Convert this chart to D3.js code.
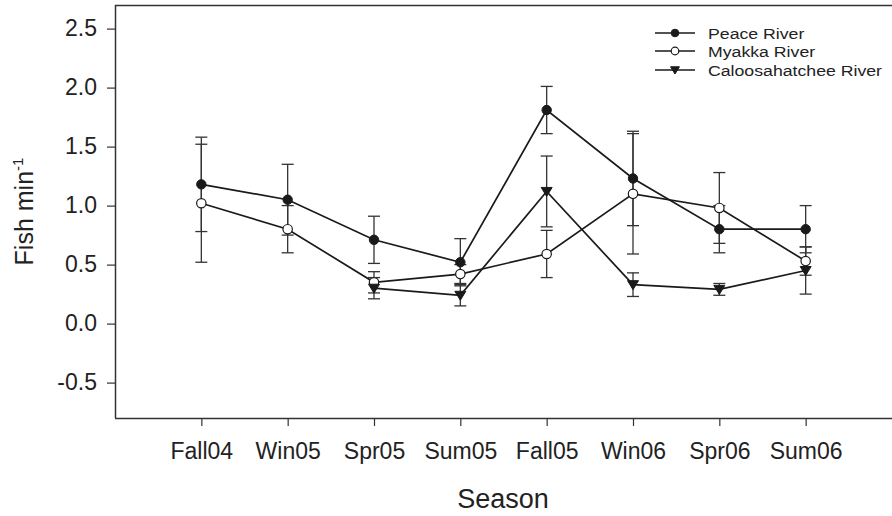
<!DOCTYPE html>
<html><head><meta charset="utf-8">
<script src="https://cdn.jsdelivr.net/npm/d3@7"></script>
<style>body{margin:0;background:#fff;} text{font-family:"Liberation Sans",Arial,sans-serif;}</style>
</head><body>
<svg id="c" width="892" height="516"></svg>
<script>
const seasons = ["Fall04","Win05","Spr05","Sum05","Fall05","Win06","Spr06","Sum06"];
const peace     = [1.18, 1.05, 0.71, 0.52, 1.81, 1.23, 0.80, 0.80];
const peaceErr  = [0.40, 0.30, 0.20, 0.20, 0.20, 0.40, 0.20, 0.20];
const myakka    = [1.02, 0.80, 0.35, 0.42, 0.59, 1.10, 0.98, 0.53];
const myakkaErr = [0.50, 0.20, 0.09, 0.08, 0.20, 0.51, 0.30, 0.12];
const caloosa    = [null, null, 0.30, 0.24, 1.12, 0.33, 0.29, 0.45];
const caloosaErr = [null, null, 0.09, 0.09, 0.30, 0.10, 0.05, 0.20];
const yTicks = [-0.5, 0.0, 0.5, 1.0, 1.5, 2.0, 2.5];
const seriesNames = ["Peace River","Myakka River","Caloosahatchee River"];

const svg = d3.select("#c");
const L = 115, R = 892, T = 5, B = 418;
const x = d3.scaleLinear().domain([-1, seasons.length]).range([L, R]);
const y = d3.scaleLinear().domain([-0.8, 2.7]).range([B, T]);
const ink = "#1a1a1a";

svg.append("line").attr("x1",L).attr("x2",R).attr("y1",T+0.5).attr("y2",T+0.5).attr("stroke","#333").attr("stroke-width",1.5);

const yAxis = svg.append("g").attr("transform",`translate(${L},0)`)
  .call(d3.axisLeft(y).tickValues(yTicks).tickFormat(d=>d.toFixed(1)).tickSize(8).tickPadding(10));
const xAxis = svg.append("g").attr("transform",`translate(0,${B})`)
  .call(d3.axisBottom(x).tickValues(d3.range(seasons.length)).tickFormat(i=>seasons[i]).tickSize(8).tickPadding(17));
[yAxis,xAxis].forEach(g=>{
  g.select(".domain").attr("stroke","#333").attr("stroke-width",1.5);
  g.selectAll(".tick line").attr("stroke","#333").attr("stroke-width",1.2);
  g.selectAll(".tick text").attr("fill","#222").style("font-size","23px");
});
yAxis.select(".domain").attr("d",`M0.5,${T}V${B}`);
xAxis.select(".domain").attr("d",`M${L},0.5H${R}`);

svg.append("text").attr("x",503).attr("y",508).attr("text-anchor","middle")
  .style("font-size","27px").attr("fill","#222").text("Season");
const yt = svg.append("text").attr("transform",`translate(33,${y(0.95)}) rotate(-90)`).attr("text-anchor","middle")
  .style("font-size","25px").attr("fill","#222");
yt.append("tspan").text("Fish min");
yt.append("tspan").attr("dy",-10).style("font-size","15px").text("-1");

const series = [
  {name:seriesNames[0], v:peace, e:peaceErr, sym:"fill"},
  {name:seriesNames[1], v:myakka, e:myakkaErr, sym:"open"},
  {name:seriesNames[2], v:caloosa, e:caloosaErr, sym:"tri"}
];

const cap = 6;
series.forEach(s=>{
  s.v.forEach((v,i)=>{
    if(v==null) return;
    const g = svg.append("g").attr("stroke","#333").attr("stroke-width",1.3);
    const xi = x(i), hi = y(v+s.e[i]), lo = y(v-s.e[i]);
    g.append("line").attr("x1",xi).attr("x2",xi).attr("y1",hi).attr("y2",lo);
    g.append("line").attr("x1",xi-cap).attr("x2",xi+cap).attr("y1",hi).attr("y2",hi);
    g.append("line").attr("x1",xi-cap).attr("x2",xi+cap).attr("y1",lo).attr("y2",lo);
  });
});

const line = d3.line().defined(d=>d[1]!=null).x(d=>x(d[0])).y(d=>y(d[1]));
series.forEach(s=>{
  svg.append("path").datum(s.v.map((v,i)=>[i,v])).attr("d",line)
    .attr("fill","none").attr("stroke",ink).attr("stroke-width",1.7);
});

function marker(g, sym, cx, cy, r){
  r = r || 4.7;
  if(sym==="fill") g.append("circle").attr("cx",cx).attr("cy",cy).attr("r",r).attr("fill",ink).attr("stroke",ink);
  else if(sym==="open") g.append("circle").attr("cx",cx).attr("cy",cy).attr("r",r).attr("fill","#fff").attr("stroke",ink).attr("stroke-width",1.2);
  else { const k = r/4.7; g.append("path").attr("d",`M${cx-5.5*k},${cy-4*k}L${cx+5.5*k},${cy-4*k}L${cx},${cy+5*k}Z`).attr("fill",ink).attr("stroke",ink); }
}
series.forEach(s=>{
  s.v.forEach((v,i)=>{ if(v!=null) marker(svg, s.sym, x(i), y(v)); });
});

const ly = [33, 51, 70];
series.forEach((s,k)=>{
  svg.append("line").attr("x1",655).attr("x2",695).attr("y1",ly[k]).attr("y2",ly[k]).attr("stroke",ink).attr("stroke-width",1.4);
  marker(svg, s.sym, 675, ly[k], 3.8);
  svg.append("text").attr("transform",`translate(708,${ly[k]+5.5}) scale(1.18,1)`)
    .style("font-size","15px").attr("fill","#222").text(s.name);
});
</script>
</body></html>
